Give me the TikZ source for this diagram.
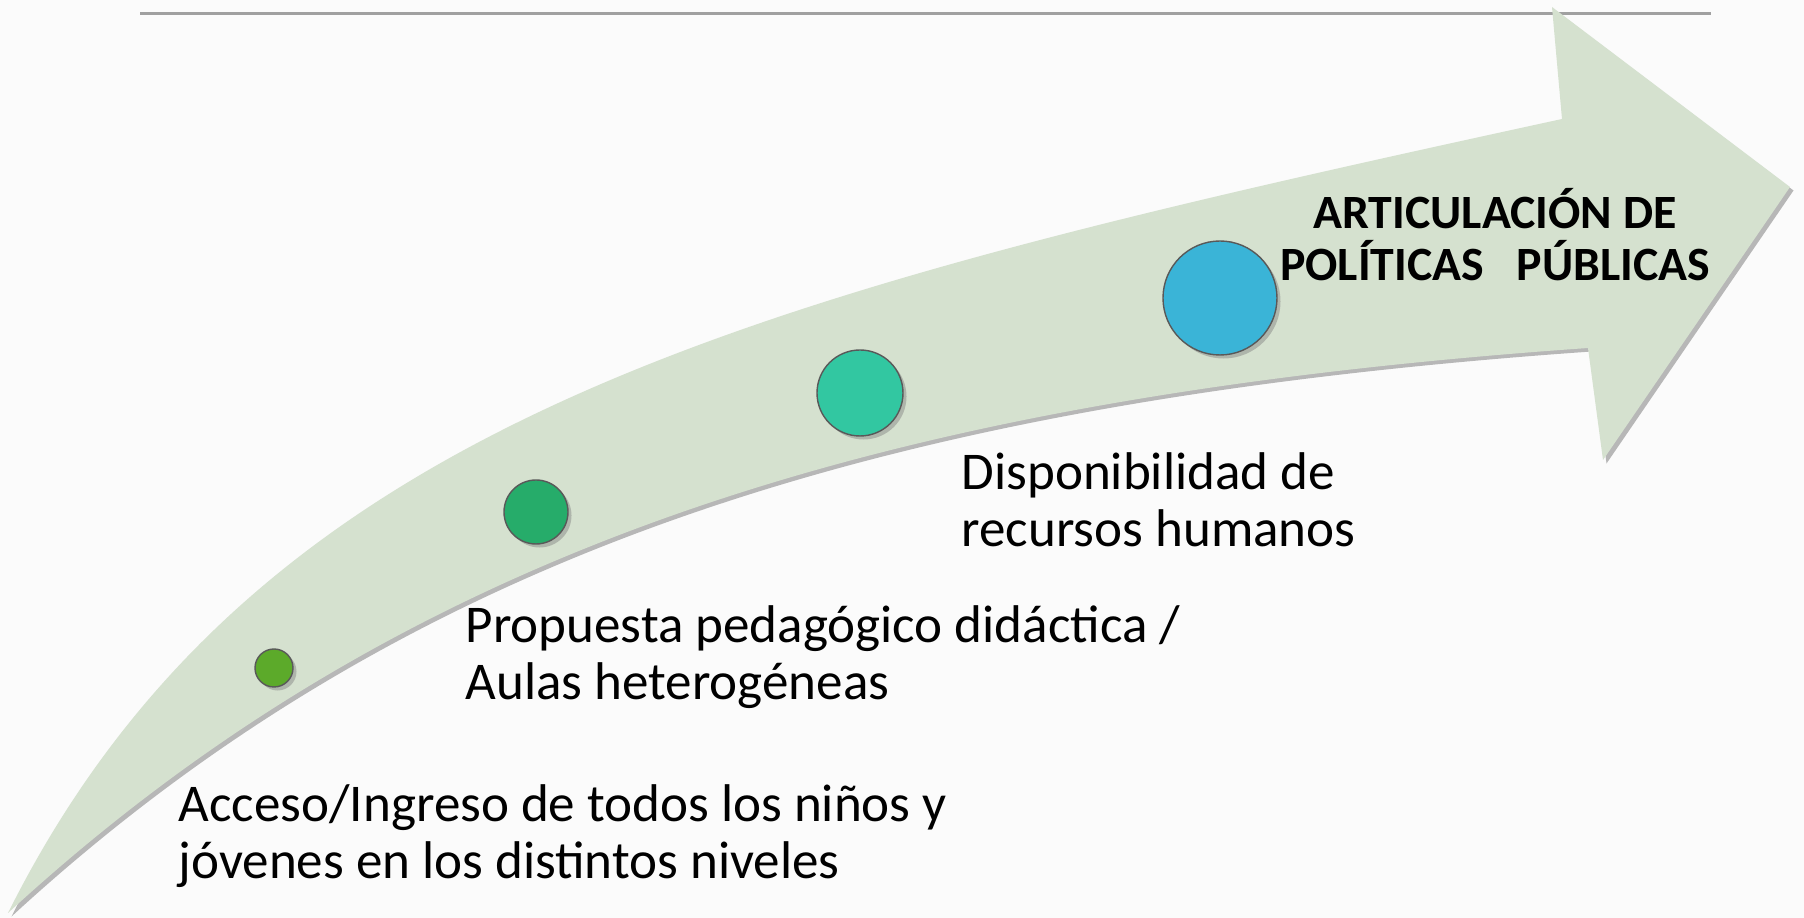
\documentclass[tikz,border=0pt]{standalone}
\usepackage{fontspec}
\setmainfont{Carlito}
\usetikzlibrary{shadows}

\definecolor{arrowfill}{RGB}{213,225,207}
\definecolor{bgwhite}{RGB}{251,251,251}
\definecolor{rulegray}{RGB}{160,160,160}
\definecolor{dotgreen}{RGB}{92,170,42}
\definecolor{dotmint}{RGB}{38,172,106}
\definecolor{dotteal}{RGB}{50,199,161}
\definecolor{dotblue}{RGB}{58,180,215}

\tikzstyle{bigarrow}=[fill=arrowfill,drop shadow={shadow xshift=1pt,shadow yshift=-1pt,opacity=0.55}]
\tikzstyle{dot}=[draw=black!65,thin,circle,inner sep=0pt,drop shadow={shadow xshift=1pt,shadow yshift=-1pt,opacity=0.45}]
\tikzstyle{stagetext}=[anchor=base west,align=left,inner sep=0pt,font=\fontsize{15.1}{16.5}\selectfont]
\tikzstyle{goaltext}=[anchor=base,align=center,inner sep=0pt,font=\bfseries\fontsize{13.6}{14.8}\selectfont]

\begin{document}
\begin{tikzpicture}[x=0.1mm, y=-0.1mm]
    \fill[bgwhite] (0,0) rectangle (1804,918);
    \useasboundingbox (0,0) rectangle (1804,918);
    % First the rule at the top
    \coordinate (ruleL) at (140,14);
    \coordinate (ruleR) at (1711,14);
    \draw[rulegray, line width=0.3mm] (ruleL) -- (ruleR);
    % the curved arrow
    \path[bigarrow] (8,913) .. controls (258,413) and (762,293) .. (1562,119)
        -- (1552,7) -- (1790,187) -- (1603,460) -- (1588,348)
        .. controls (888,397) and (408,545) .. (8,913) -- cycle;
    % the dots along the arrow
    \foreach \pos/\name/\size/\col in {{(274,668)/d1/3.8mm/dotgreen}, {(536,512)/d2/6.4mm/dotmint},
            {(860,393)/d3/8.6mm/dotteal}, {(1220,298)/d4/11.4mm/dotblue}}
        \node[dot, minimum size=\size, fill=\col] (\name) at \pos {};
    % the texts (base = last line)
    \node[goaltext] (goal) at (1495,281) {ARTICULACIÓN DE\\POLÍTICAS~~~PÚBLICAS};
    \node[stagetext] (s1) at (178,879) {Acceso/Ingreso de todos los niños y\\jóvenes en los distintos niveles};
    \node[stagetext] (s2) at (465,700) {Propuesta pedagógico didáctica /\\Aulas heterogéneas};
    \node[stagetext] (s3) at (961,547) {Disponibilidad de\\recursos humanos};
\end{tikzpicture}
\end{document}
